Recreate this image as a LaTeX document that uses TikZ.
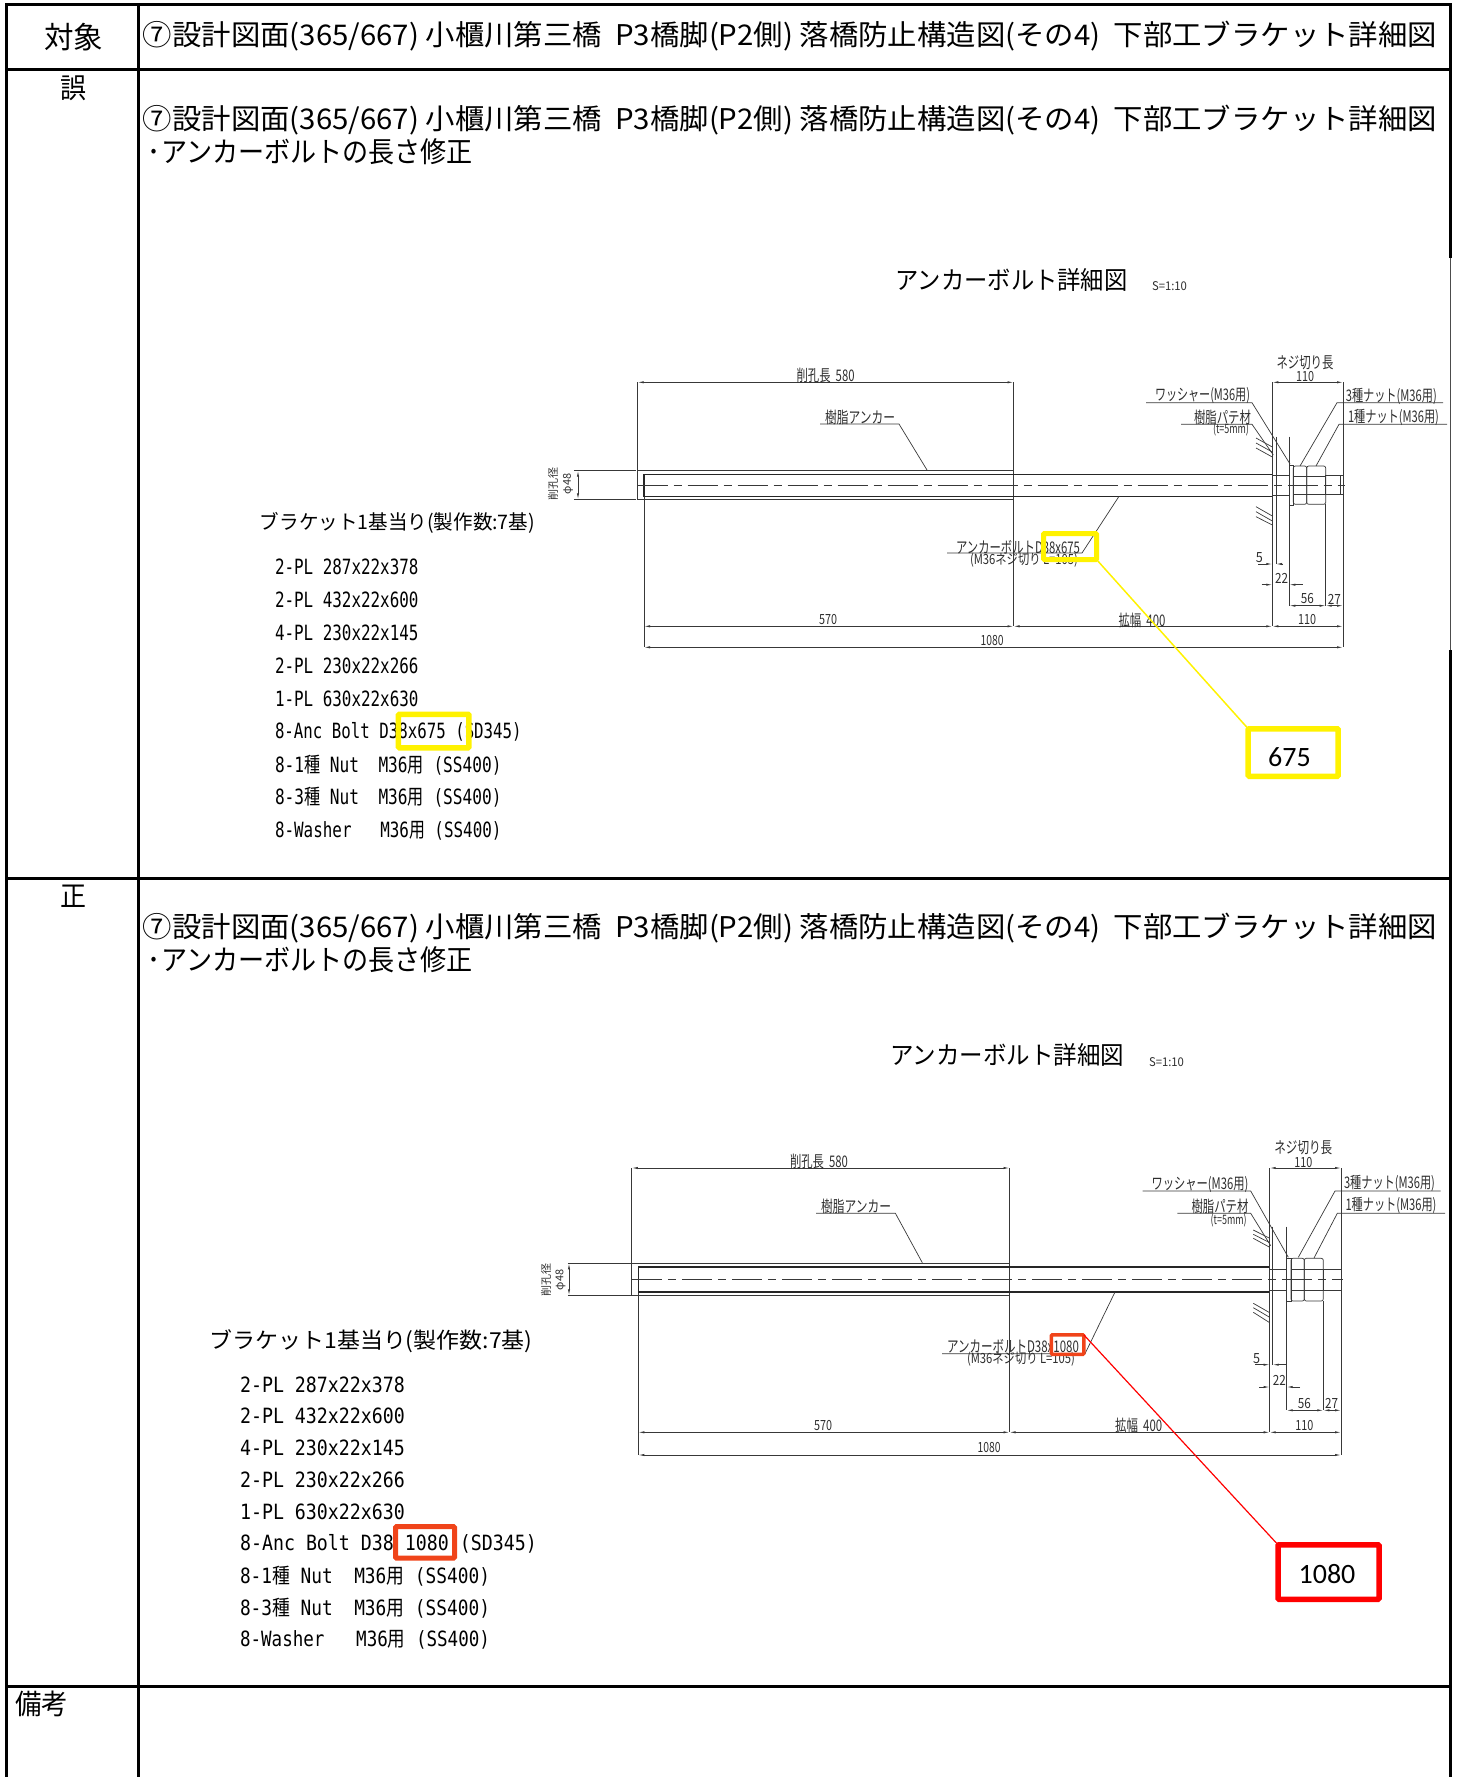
\documentclass[tikz,border=0pt]{standalone}
\usepackage{fontspec}
\usepackage{graphicx}
\usetikzlibrary{arrows.meta}
\setmainfont{Noto Sans CJK JP}
\newfontfamily\cjf{Noto Sans CJK JP}
\newfontfamily\monof{DejaVu Sans Mono}
\newfontfamily\calf{Carlito}
\newcommand\Kj[1]{{\cjf #1}}
% name, x, y, width, size, text : centred text fitted to a width
\newcommand\Tx[6]{\node[txt] (#1) at (#2,#3) {\resizebox{#4pt}{\height}{\fontsize{#5pt}{#5pt}\selectfont #6}};}
% small drawing label in grey
\newcommand\Dx[6]{\node[txt,text=black!82] (#1) at (#2,#3) {\resizebox{#4pt}{\height}{\fontsize{#5pt}{#5pt}\selectfont #6}};}
% parts list line
\newcommand\Li[5]{\node[txt,anchor=west] (#1) at (#2,#3) {\resizebox{#4pt}{\height}{\fontsize{21pt}{21pt}\selectfont\monof #5}};}
% hexagon nut
\newcommand\Nut[6]{\draw[ln,rounded corners=2pt] (#1,#3) rectangle (#2,#4);\draw[ln] (#1,#5) -- (#2,#5) (#1,#6) -- (#2,#6);}
\tikzset{
  txt/.style={inner sep=0pt,outer sep=0pt,anchor=center},
  grid/.style={line width=3pt,black},
  ln/.style={line width=0.7pt,black!78},
  thk/.style={line width=1.1pt,black!85},
  dimln/.style={line width=0.7pt,black!78,{Latex[length=6pt,width=2.2pt]}-{Latex[length=6pt,width=2.2pt]}},
  oneway/.style={line width=0.7pt,black!78,-{Latex[length=6pt,width=2.2pt]}},
  axisln/.style={line width=0.8pt,black!78,dash pattern=on 30pt off 6pt on 8pt off 6pt},
  hl/.style={draw=#1,fill=none,rounded corners=1pt,outer sep=0pt,inner sep=0pt},
  callout/.style={draw=#1,fill=white,line width=5.5pt,rounded corners=1pt,outer sep=0pt,inner sep=0pt},
  calltext/.style={inner sep=0pt,outer sep=0pt,font=\fontsize{28pt}{28pt}\selectfont\calf},
}
\begin{document}
\begin{tikzpicture}[x=1pt,y=-1pt]
\useasboundingbox (0,0) rectangle (1457,1777);
% ---------- table
\draw[grid] (6.5,1777) -- (6.5,5) -- (1450,5) -- (1450,258);
\draw[line width=1pt,black!70] (1450,258) -- (1450,650);
\draw[grid] (1450,650) -- (1450,1777);
\draw[grid] (138,5) -- (138,1777);
\draw[grid] (6.5,69.5) -- (1450,69.5);
\draw[grid] (6.5,878) -- (1450,878);
\draw[grid] (6.5,1686.5) -- (1450,1686.5);
\Tx{hTarget}{73.5}{37}{59}{30}{対象}
\Tx{hWrong}{73.5}{88}{26}{28}{誤}
\Tx{hRight}{73.5}{896}{26}{28}{正}
\Tx{hNote}{41.5}{1704}{53}{28}{備考}
\newcommand\Ttl{⑦設計図面(365/667) 小櫃川第三橋\ \ P3橋脚(P2側) 落橋防止構造図(その4)\ \ 下部工ブラケット詳細図}
\Tx{t0}{790}{36}{1294}{28.5}{\Ttl}
\Tx{t1}{790}{120}{1294}{28.5}{\Ttl}
\Tx{t1b}{310.5}{152}{325}{28.5}{･アンカーボルトの長さ修正}
\Tx{t2}{790}{928}{1294}{28.5}{\Ttl}
\Tx{t2b}{310.5}{960}{325}{28.5}{･アンカーボルトの長さ修正}
% ---------- upper drawing
\Tx{uTitle}{1011.5}{280}{232}{25}{アンカーボルト詳細図}
\Dx{uScale}{1169.5}{286}{35}{12}{S=1:10}
\draw[ln] (637.6,382.3) -- (637.6,470.7);
\draw[ln] (1013.5,382.3) -- (1013.5,626.3);
\draw[ln] (644,496.3) -- (644,647.3);
\draw[ln] (637.6,470.7) rectangle (1013.5,499.3);
\draw[thk] (644,474.3) rectangle (1272.3,496.3);
\draw[axisln] (637.6,485.3) -- (1345,485.3);
\draw[ln] (573.8,470.7) -- (636,470.7) (573.8,499.3) -- (636,499.3);
\draw[dimln] (578,470.7) -- (578,499.3);
\Dx{uBoreA}{553}{484}{10}{11}{\rotatebox{90}{削孔径}}
\Dx{uBoreB}{568}{484}{10}{11}{\rotatebox{90}{φ48}}
\draw[dimln] (637.6,382.3) -- (1013.5,382.3);
\Dx{uD580}{825.6}{375}{58}{16}{削孔長\ \ 580}
\Dx{uResin}{860}{417}{70}{16}{樹脂アンカー}
\draw[ln] (820,424) -- (899,424) -- (927,470);
\Dx{uAnc}{1018}{547}{124}{16}{アンカーボルトD38x675}
\draw[ln] (947,553) -- (1082,553) -- (1119,496.3);
\Dx{uAncB}{1024}{560}{108}{14}{(M36ネジ切り L=105)}
\draw[ln] (1272.3,382.3) -- (1272.3,626.3);
\draw[ln] (1343,382.3) -- (1343,647.3);
\draw[dimln] (1272.3,382.3) -- (1343,382.3);
\Dx{uThr}{1305}{363}{57}{16}{ネジ切り長}
\Dx{uThrV}{1305}{377}{18}{14}{110}
\Dx{uWash}{1202.5}{396}{95}{16}{ワッシャー(M36用)}
\draw[ln] (1146,402.7) -- (1252,402.7) -- (1290,464);
\Dx{uPutty}{1222.5}{417}{57}{16}{樹脂パテ材}
\draw[ln] (1181,424.3) -- (1252,424.3) -- (1273.3,455);
\Dx{uPuttyB}{1231}{429}{36}{13}{(t=5mm)}
\Dx{uN3}{1391.3}{396}{91}{16}{3種ナット(M36用)}
\draw[ln] (1443,402.7) -- (1337,402.7) -- (1300,466);
\Dx{uN1}{1393.5}{417}{91}{16}{1種ナット(M36用)}
\draw[ln] (1447,424.3) -- (1339,424.3) -- (1316,466);
\draw[ln] (1276,436.7) -- (1276,564);
\draw[ln] (1289.3,436.7) -- (1289.3,605.7);
\draw[ln] (1272.3,475) -- (1289.3,475) (1272.3,495) -- (1289.3,495);
\draw[ln] (1289.3,465) rectangle (1293.3,505);
\Nut{1293.3}{1306.7}{466}{504.3}{476}{494.7}
\Nut{1306.7}{1325.7}{466}{504.3}{476}{494.7}
\draw[ln] (1325.7,475) rectangle (1343,494.3);
\draw[ln] (1340,475) -- (1340,494.3);
\draw[ln] (1325.7,504.3) -- (1325.7,605.7);
\foreach \a/\b in {438/447,443/452,448/457,506.7/516,511.7/521,516.7/525}
  \draw[ln] (1256,\a) -- (1272.3,\b);
\draw[oneway] (1258,564) -- (1272.3,564);
\draw[oneway] (1283,564) -- (1276,564);
\Dx{uD5}{1259.3}{558}{7}{14}{5}
\draw[oneway] (1261.7,584.7) -- (1272.3,584.7);
\draw[oneway] (1302.7,584.7) -- (1289.3,584.7);
\Dx{uD22}{1281.7}{578}{13}{14}{22}
\draw[dimln] (1289.3,605.7) -- (1325.7,605.7);
\draw[dimln] (1325.7,605.7) -- (1343,605.7);
\Dx{uD56}{1307.3}{599}{13}{14}{56}
\Dx{uD27}{1334.3}{599}{13}{14}{27}
\draw[dimln] (644,626.3) -- (1013.5,626.3);
\draw[dimln] (1013.5,626.3) -- (1272.3,626.3);
\draw[dimln] (1272.3,626.3) -- (1343,626.3);
\draw[dimln] (644,647.3) -- (1343,647.3);
\Dx{uD570}{828}{620}{18}{14}{570}
\Dx{uD400}{1142}{620}{47}{16}{拡幅\ \ 400}
\Dx{uD110}{1307}{620}{18}{14}{110}
\Dx{uD1080}{992}{641}{23}{14}{1080}
% upper list
\Tx{uLH}{397.5}{523}{275}{20}{ブラケット1基当り(製作数:7基)}
\Li{uL1}{275}{566.7}{143.5}{2-PL 287x22x378}
\Li{uL2}{275}{600}{143.5}{2-PL 432x22x600}
\Li{uL3}{275}{632.7}{143.5}{4-PL 230x22x145}
\Li{uL4}{275}{665.7}{143.5}{2-PL 230x22x266}
\Li{uL5}{275}{699}{143.5}{1-PL 630x22x630}
\Li{uL6}{275}{731.7}{246.7}{8-Anc Bolt D38x675 (SD345)}
\Li{uL7}{275}{765}{226.5}{8-1\Kj{種} Nut~~M36\Kj{用} (SS400)}
\Li{uL8}{275}{797.3}{226.5}{8-3\Kj{種} Nut~~M36\Kj{用} (SS400)}
\Li{uL9}{275}{831}{226.5}{8-Washer~~~M36\Kj{用} (SS400)}
% yellow marks
\node[hl=yellow,line width=5.5pt,minimum width=70.5pt,minimum height=33.5pt] (uMarkL) at (433.7,731) {};
\node[hl=yellow,line width=5pt,minimum width=53pt,minimum height=26pt] (uMarkD) at (1070,546.5) {};
\node[callout=yellow,minimum width=90pt,minimum height=47.5pt] (uCall) at (1293.2,752.5) {};
\node[calltext] (uCallT) at (1289.5,757) {675};
\draw[yellow,line width=1.5pt] (uMarkD.south east) -- (uCall.north west);
% ---------- lower drawing
\Tx{lTitle}{1007}{1055}{234}{25}{アンカーボルト詳細図}
\Dx{lScale}{1166.5}{1062}{35}{12}{S=1:10}
\draw[ln] (631.8,1168) -- (631.8,1263.3);
\draw[ln] (1009.5,1168) -- (1009.5,1432.3);
\draw[ln] (638.3,1292) -- (638.3,1455);
\draw[ln] (631.8,1263.3) rectangle (1009.5,1295.3);
\draw[thk] (638.3,1267) rectangle (1269.7,1292);
\draw[axisln] (631.8,1279.7) -- (1343,1279.7);
\draw[ln] (567.8,1263.3) -- (631,1263.3) (567.8,1295.3) -- (631,1295.3);
\draw[dimln] (569,1263.3) -- (569,1295.3);
\Dx{lBoreA}{546}{1280}{10}{11}{\rotatebox{90}{削孔径}}
\Dx{lBoreB}{560.5}{1280}{10}{11}{\rotatebox{90}{φ48}}
\draw[dimln] (631.8,1168) -- (1009.5,1168);
\Dx{lD580}{819}{1161}{58}{16}{削孔長\ \ 580}
\Dx{lResin}{856}{1206}{70}{16}{樹脂アンカー}
\draw[ln] (816,1213.3) -- (895.4,1213.3) -- (922.3,1262.7);
\Dx{lAnc}{1013}{1346}{132}{16}{アンカーボルトD38x1080}
\draw[ln] (942,1353.7) -- (1085,1353.7) -- (1115,1292);
\Dx{lAncB}{1021}{1359}{108}{14}{(M36ネジ切り L=105)}
\draw[ln] (1269.7,1168) -- (1269.7,1432.3);
\draw[ln] (1341,1168) -- (1341,1455);
\draw[dimln] (1269.7,1168) -- (1341,1168);
\Dx{lThr}{1303.3}{1147.7}{58}{16}{ネジ切り長}
\Dx{lThrV}{1303.3}{1162.3}{18}{14}{110}
\Dx{lWash}{1200}{1184.3}{97}{16}{ワッシャー(M36用)}
\draw[ln] (1142.7,1191) -- (1250.7,1191) -- (1288.3,1257.3);
\Dx{lPutty}{1220}{1206}{57}{16}{樹脂パテ材}
\draw[ln] (1177.3,1213.3) -- (1250.7,1213.3) -- (1270.7,1245.7);
\Dx{lPuttyB}{1228.7}{1220}{36}{13}{(t=5mm)}
\Dx{lN3}{1389.5}{1183.3}{91}{16}{3種ナット(M36用)}
\draw[ln] (1440.7,1191) -- (1335,1191) -- (1298.3,1257.3);
\Dx{lN1}{1391}{1205.7}{91}{16}{1種ナット(M36用)}
\draw[ln] (1445,1213.3) -- (1337.3,1213.3) -- (1314,1258);
\draw[ln] (1272.7,1226.7) -- (1272.7,1364.7);
\draw[ln] (1286.7,1226.7) -- (1286.7,1410.3);
\draw[ln] (1269.7,1269) -- (1286.7,1269) (1269.7,1290) -- (1286.7,1290);
\draw[ln] (1286.7,1258.3) rectangle (1291,1301);
\Nut{1291}{1304.3}{1258.3}{1301}{1269}{1290}
\Nut{1304.3}{1323.3}{1258.3}{1301}{1269}{1290}
\draw[ln] (1323.3,1269) rectangle (1341,1290);
\draw[ln] (1323.3,1301) -- (1323.3,1410.3);
\foreach \a/\b in {1230/1238.3,1234.3/1242.7,1238.3/1247.3,1303.3/1312.7,1307.7/1317.3,1312.3/1322.7}
  \draw[ln] (1253.3,\a) -- (1269.7,\b);
\draw[oneway] (1255,1364.7) -- (1269.7,1364.7);
\draw[oneway] (1286.7,1364.7) -- (1272.7,1364.7);
\Dx{lD5}{1256.7}{1358.7}{7}{14}{5}
\draw[oneway] (1259.3,1387) -- (1269.7,1387);
\draw[oneway] (1300,1387) -- (1286.7,1387);
\Dx{lD22}{1279.3}{1380.7}{13}{14}{22}
\draw[dimln] (1286.7,1410.3) -- (1323.3,1410.3);
\draw[dimln] (1323.3,1410.3) -- (1341,1410.3);
\Dx{lD56}{1304.3}{1403}{13}{14}{56}
\Dx{lD27}{1331.7}{1403}{13}{14}{27}
\draw[dimln] (638.3,1432.3) -- (1009.5,1432.3);
\draw[dimln] (1009.5,1432.3) -- (1269.7,1432.3);
\draw[dimln] (1269.7,1432.3) -- (1341,1432.3);
\draw[dimln] (638.3,1455) -- (1341,1455);
\Dx{lD570}{823}{1425}{18}{14}{570}
\Dx{lD400}{1138.7}{1425}{47}{16}{拡幅\ \ 400}
\Dx{lD110}{1304.3}{1425.3}{18}{14}{110}
\Dx{lD1080}{989}{1447.7}{23}{14}{1080}
% lower list
\Tx{lLH}{371}{1341.5}{323}{22}{ブラケット1基当り(製作数:7基)}
\Li{lL1}{240}{1384.5}{165}{2-PL 287x22x378}
\Li{lL2}{240}{1416.3}{165}{2-PL 432x22x600}
\Li{lL3}{240}{1448}{165}{4-PL 230x22x145}
\Li{lL4}{240}{1479.6}{165}{2-PL 230x22x266}
\Li{lL5}{240}{1511.4}{165}{1-PL 630x22x630}
\Li{lL6}{240}{1544.3}{297}{8-Anc Bolt D38 1080 (SD345)}
\Li{lL7}{240}{1576}{250}{8-1\Kj{種} Nut~~M36\Kj{用} (SS400)}
\Li{lL8}{240}{1607.7}{250}{8-3\Kj{種} Nut~~M36\Kj{用} (SS400)}
\Li{lL9}{240}{1639.5}{250}{8-Washer~~~M36\Kj{用} (SS400)}
% red marks
\definecolor{markred}{HTML}{F0441A}
\node[hl=markred,line width=5pt,minimum width=59pt,minimum height=31.5pt] (lMarkL) at (425,1542.3) {};
\node[hl=markred,line width=3.5pt,minimum width=32.5pt,minimum height=19.5pt] (lMarkD) at (1067.5,1344.5) {};
\node[callout=red,minimum width=101pt,minimum height=54.5pt] (lCall) at (1328.5,1572) {};
\node[calltext] (lCallT) at (1327,1574) {1080};
\draw[red,line width=1.2pt] (lMarkD.north east) -- (lCall.north west);
\end{tikzpicture}
\end{document}
